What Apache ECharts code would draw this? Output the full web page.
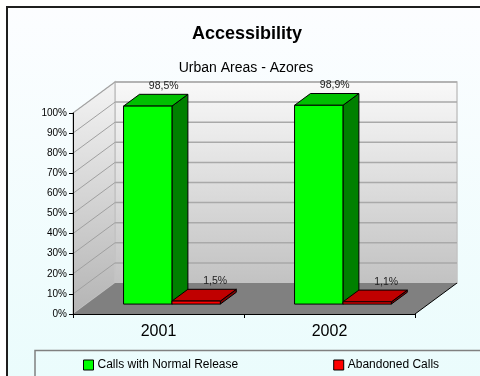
<!DOCTYPE html>
<html>
<head>
<meta charset="utf-8">
<script src="https://cdn.jsdelivr.net/npm/echarts@6/dist/echarts.min.js"></script>
<style>
html,body{margin:0;padding:0;background:#fff;}
#c{width:480px;height:376px;}
</style>
</head>
<body>
<div id="c"></div>
<script>
// ---- data ----
const categories = ['2001', '2002'];
const normalRelease = [98.5, 98.9];
const abandonedCalls = [1.5, 1.1];
const seriesNames = ['Calls with Normal Release', 'Abandoned Calls'];
const yTicks = [0, 10, 20, 30, 40, 50, 60, 70, 80, 90, 100];
const titleText = 'Accessibility';
const subtitleText = 'Urban Areas - Azores';

// ---- style ----
const FONT = 'Liberation Sans, Arial, sans-serif';
const DX = 42, DY = -31;          // full depth of the 3D box
const FRONT = 0.32, BACK = 0.70;  // bar depth position (fraction of the box depth)
const BAR_FRAC = 0.283;           // bar width as fraction of the category band
const faces = [
  { front: '#00ff00', top: '#00c000', side: '#008000' },
  { front: '#ff0000', top: '#c00000', side: '#800000' }
];

function fmt(v) { return v.toFixed(1).replace('.', ',') + '%'; }

function wallsRender(params, api) {
  const cs = params.coordSys;
  const x0 = cs.x, x1 = cs.x + cs.width, yT = cs.y, yB = cs.y + cs.height;
  const grad = (a, b) => new echarts.graphic.LinearGradient(0, 0, 0, 1, [
    { offset: 0, color: a }, { offset: 1, color: b }]);
  return {
    type: 'group',
    children: [
      { type: 'rect', shape: { x: x0 + DX, y: yT + DY, width: cs.width, height: cs.height },
        style: { fill: grad('#f9f9f9', '#c2c2c2'), stroke: '#c4c4c4', lineWidth: 1.5 } },
      { type: 'polygon', shape: { points: [[x0, yT], [x0 + DX, yT + DY], [x0 + DX, yB + DY], [x0, yB]] },
        style: { fill: grad('#f4f4f4', '#b4b4b4'), stroke: '#c4c4c4', lineWidth: 1.5 } },
      { type: 'polygon', shape: { points: [[x0, yB], [x1, yB], [x1 + DX, yB + DY], [x0 + DX, yB + DY]] },
        style: { fill: '#808080' } },
      { type: 'line', shape: { x1: x1, y1: yB, x2: x1 + DX, y2: yB + DY },
        style: { stroke: '#000', lineWidth: 1 } }
    ]
  };
}

function gridRender(params, api) {
  const cs = params.coordSys;
  const v = api.value(1);
  if (v === 0) return null;
  const y = api.coord([0, v])[1];
  const x0 = cs.x, x1 = cs.x + cs.width;
  return {
    type: 'group',
    children: [
      { type: 'line', shape: { x1: x0 + DX, y1: y + DY, x2: x1 + DX, y2: y + DY },
        style: { stroke: '#a9a9a9', lineWidth: 1.5 } },
      { type: 'line', shape: { x1: x0, y1: y, x2: x0 + DX, y2: y + DY },
        style: { stroke: '#a0a0a0', lineWidth: 1 } }
    ]
  };
}

function barRender(si) {
  return function (params, api) {
    const cat = api.value(0), v = api.value(1);
    const base = api.coord([cat, 0]);
    const top = api.coord([cat, v]);
    const band = api.size([1, 0])[0];
    const w = band * BAR_FRAC;
    const x = base[0] + (si === 0 ? -w : 0) + DX * FRONT;
    const yb = base[1] + DY * FRONT;
    const yt = top[1] + DY * FRONT;
    const ddx = DX * (BACK - FRONT), ddy = DY * (BACK - FRONT);
    const f = faces[si];
    const st = (c) => ({ fill: c, stroke: '#000', lineWidth: 1 });
    return {
      type: 'group',
      children: [
        { type: 'polygon', shape: { points: [[x + w, yt], [x + w + ddx, yt + ddy], [x + w + ddx, yb + ddy], [x + w, yb]] }, style: st(f.side) },
        { type: 'polygon', shape: { points: [[x, yt], [x + w, yt], [x + w + ddx, yt + ddy], [x + ddx, yt + ddy]] }, style: st(f.top) },
        { type: 'rect', shape: { x: x, y: yt, width: w, height: yb - yt }, style: st(f.front) },
        { type: 'text', style: { text: fmt(v), x: x + w / 2 + ddx + (si === 0 ? 0 : 3), y: yt + ddy - 8,
            align: 'center', verticalAlign: 'middle', fill: '#222', font: '10.5px ' + FONT } }
      ]
    };
  };
}

const chart = echarts.init(document.getElementById('c'), null, { renderer: 'canvas' });
chart.setOption({
  animation: false,
  backgroundColor: '#ffffff',
  graphic: {
    elements: [{
      type: 'rect', z: -100, silent: true,
      shape: { x: 7, y: 7, width: 500, height: 400 },
      style: {
        fill: new echarts.graphic.LinearGradient(0, 0, 0, 1, [
          { offset: 0, color: '#fcfdff' }, { offset: 1, color: '#e9fcfc' }]),
        stroke: '#1e1e1e', lineWidth: 2
      }
    }, {
      type: 'rect', z: -50, silent: true,
      shape: { x: 35, y: 350.5, width: 460, height: 40 },
      style: { fill: 'transparent', stroke: '#808080', lineWidth: 1.5 }
    }]
  },
  title: [
    { text: titleText, left: 247, top: 25, textAlign: 'center', padding: 0,
      textStyle: { fontFamily: FONT, fontSize: 18, fontWeight: 'bold', color: '#000' } },
    { text: subtitleText, left: 246, top: 61.5, textAlign: 'center', padding: 0,
      textStyle: { fontFamily: FONT, fontSize: 14, fontWeight: 'normal', color: '#000' } }
  ],
  legend: {
    data: seriesNames,
    left: 83, top: 359,
    padding: 0,
    itemGap: 95, itemWidth: 10, itemHeight: 10,
    icon: 'rect',
    itemStyle: { borderColor: '#000', borderWidth: 1 },
    textStyle: { fontFamily: FONT, fontSize: 12, color: '#000', padding: [0, 0, 0, -1] }
  },
  grid: { left: 73, top: 113, width: 342, height: 201, containLabel: false, outerBoundsMode: 'none' },
  xAxis: {
    type: 'category', data: categories, z: 10,
    axisLine: { lineStyle: { color: '#000', width: 1 } },
    axisTick: { show: true, length: 4, lineStyle: { color: '#000' } },
    axisLabel: { fontFamily: FONT, fontSize: 16, color: '#000', margin: 10 },
    splitLine: { show: false }
  },
  yAxis: {
    type: 'value', min: 0, max: 100, interval: 10, z: 10,
    axisLine: { show: true, lineStyle: { color: '#000', width: 1 } },
    axisTick: { show: true, length: 4, lineStyle: { color: '#000' } },
    axisLabel: { fontFamily: FONT, fontSize: 10, color: '#000', margin: 6, formatter: '{value}%' },
    splitLine: { show: false }
  },
  series: [
    { type: 'custom', name: 'walls', z: 1, silent: true, renderItem: wallsRender, data: [[0, 0]] },
    { type: 'custom', name: 'grid', z: 1, silent: true, renderItem: gridRender,
      data: yTicks.map(v => [0, v]) },
    { type: 'custom', name: seriesNames[0], z: 3, renderItem: barRender(0),
      itemStyle: { color: faces[0].front },
      data: normalRelease.map((v, i) => [i, v]) },
    { type: 'custom', name: seriesNames[1], z: 4, renderItem: barRender(1),
      itemStyle: { color: faces[1].front },
      data: abandonedCalls.map((v, i) => [i, v]) }
  ]
});
</script>
</body>
</html>
